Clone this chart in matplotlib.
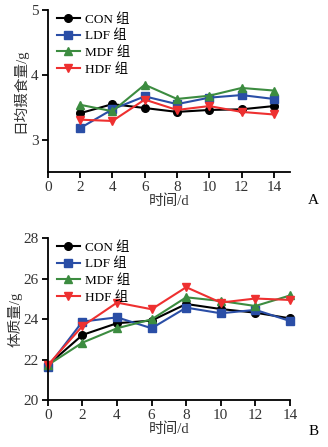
import matplotlib
matplotlib.use("Agg")
import matplotlib.pyplot as plt

plt.rcParams['font.family'] = ['Liberation Serif', 'Noto Sans CJK SC', 'DejaVu Sans']
plt.rcParams['axes.unicode_minus'] = False

groups = ['CON 组', 'LDF 组', 'MDF 组', 'HDF 组']
colors = ['#000000', '#2a4ea6', '#3c8c40', '#ee3030']
markers = ['o', 's', '^', 'v']

# A: daily food intake
days_a = [2, 4, 6, 8, 10, 12, 14]
intake = {
    'CON 组': [3.41, 3.55, 3.49, 3.43, 3.46, 3.47, 3.52],
    'LDF 组': [3.18, 3.47, 3.67, 3.55, 3.65, 3.69, 3.63],
    'MDF 组': [3.54, 3.44, 3.85, 3.63, 3.68, 3.80, 3.76],
    'HDF 组': [3.31, 3.29, 3.62, 3.46, 3.52, 3.43, 3.39],
}

# B: body weight
days_b = [0, 2, 4, 6, 8, 10, 12, 14]
weight = {
    'CON 组': [21.73, 23.22, 23.80, 23.93, 24.75, 24.50, 24.32, 24.04],
    'LDF 组': [21.65, 23.88, 24.09, 23.55, 24.57, 24.29, 24.46, 23.91],
    'MDF 组': [21.73, 22.84, 23.55, 23.99, 25.08, 24.90, 24.65, 25.17],
    'HDF 组': [21.73, 23.66, 24.82, 24.49, 25.58, 24.82, 25.02, 24.95],
}

fig = plt.figure(figsize=(3.28, 4.47), dpi=100)
ax1 = fig.add_axes([0.146, 0.615, 0.738, 0.362])
ax2 = fig.add_axes([0.146, 0.105, 0.738, 0.362])


def style(ax):
    for s in ['top', 'right']:
        ax.spines[s].set_visible(False)
    for s in ['left', 'bottom']:
        ax.spines[s].set_linewidth(1.3)
    ax.tick_params(direction='out', width=1.3, length=4, labelsize=11,
                   labelcolor='#333333', pad=2.5)
    ax.set_xlabel('时间/d', fontsize=10.5, labelpad=0, color='#333333')


for i, g in enumerate(groups):
    ax1.plot(days_a, intake[g], color=colors[i], marker=markers[i],
             lw=1.5, ms=5.5, label=g)
    ax2.plot(days_b, weight[g], color=colors[i], marker=markers[i],
             lw=1.5, ms=5.5, label=g, clip_on=False)

ax1.set_xlim(0, 15)
ax1.set_ylim(2.5, 5)
ax1.set_xticks(range(0, 15, 2))
ax1.set_yticks([3, 4, 5])
ax1.set_ylabel('日均摄食量/g', fontsize=10.5, labelpad=3, color='#333333')
style(ax1)

ax2.set_xlim(0, 14)
ax2.set_ylim(20, 28)
ax2.set_xticks(range(0, 15, 2))
ax2.set_yticks([20, 22, 24, 26, 28])
ax2.set_ylabel('体质量/g', fontsize=10.5, labelpad=1, color='#333333')
style(ax2)

for ax in (ax1, ax2):
    ax.legend(loc='upper left', bbox_to_anchor=(0.0, 1.04), frameon=False,
              fontsize=9.5, handlelength=1.7, handletextpad=0.4,
              labelspacing=0.3, borderaxespad=0.3)

fig.text(0.955, 0.552, 'A', fontsize=11, ha='center', va='center')
fig.text(0.955, 0.034, 'B', fontsize=11, ha='center', va='center')

fig.savefig('out.png', dpi=100)
